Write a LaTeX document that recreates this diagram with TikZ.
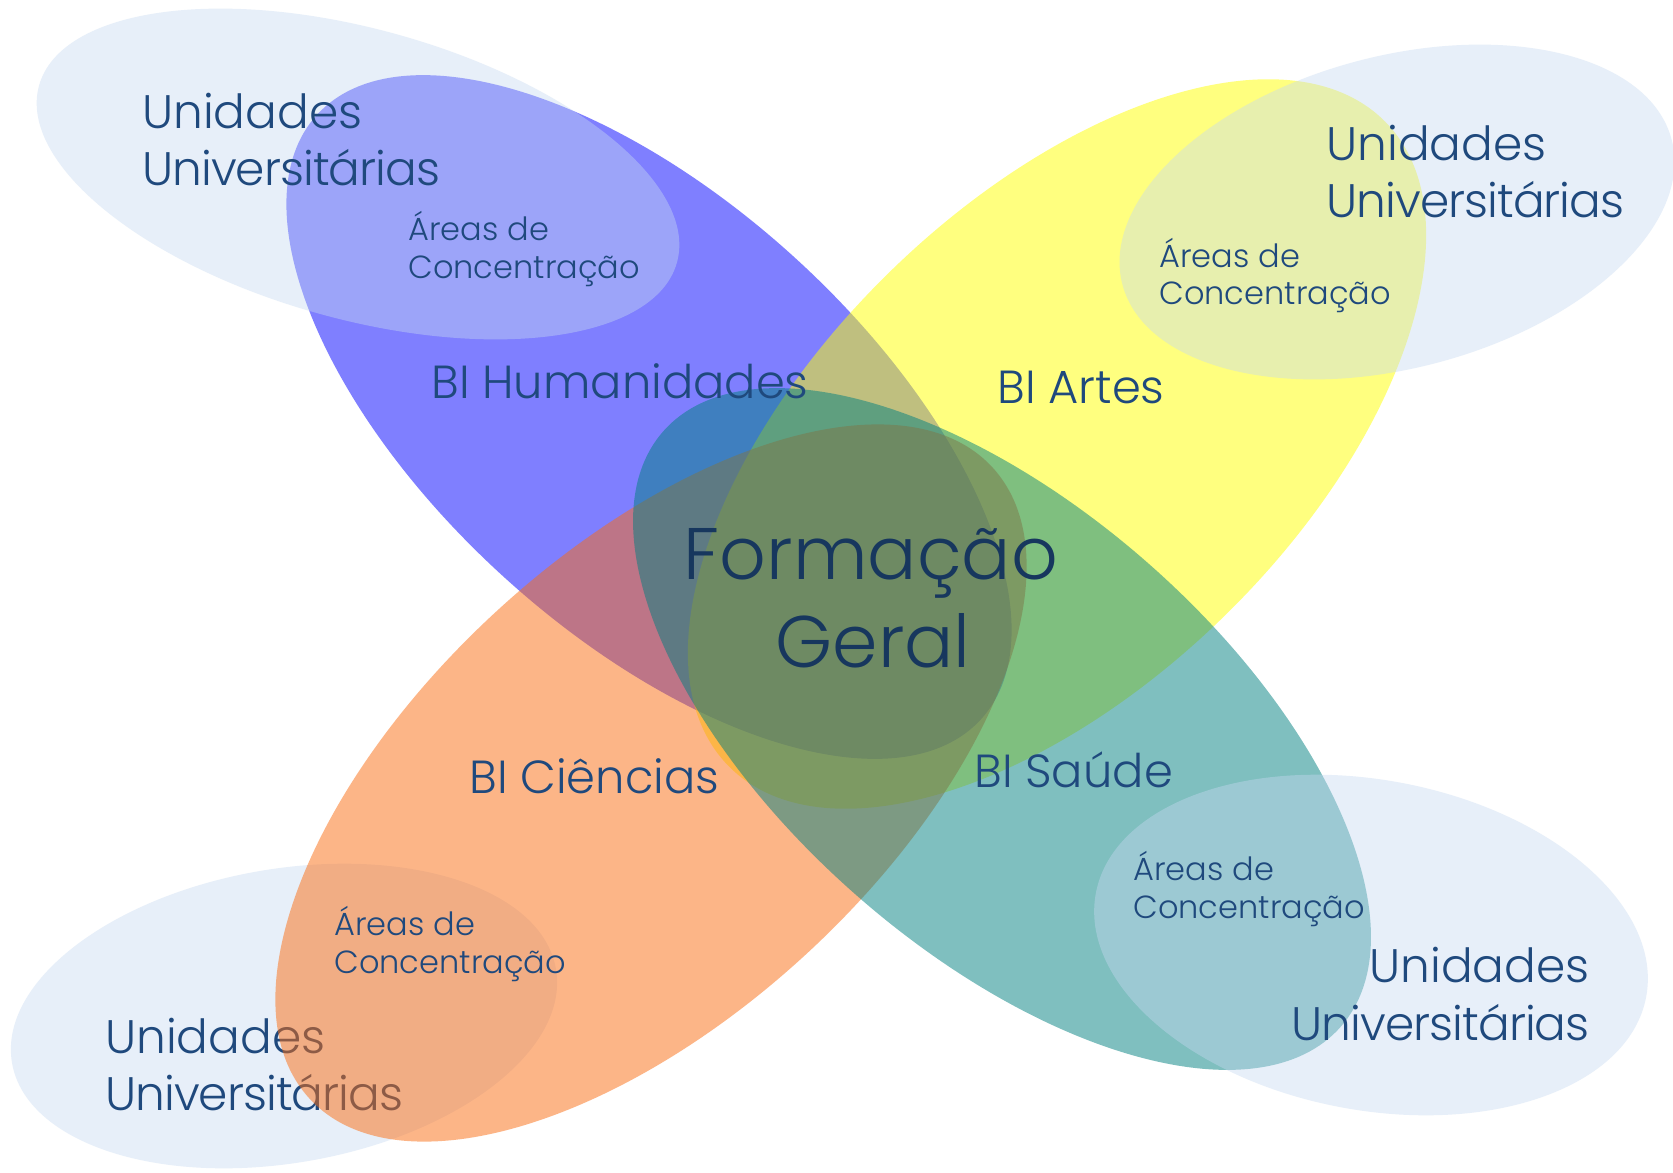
\documentclass[tikz,border=0pt]{standalone}
\usepackage{fontspec}
\setmainfont{Poppins Light}
\definecolor{cBlue}{HTML}{0000FF}
\definecolor{cYel}{HTML}{FFFF00}
\definecolor{cOra}{HTML}{FB6D11}
\definecolor{cTeal}{HTML}{008080}
\definecolor{cUni}{HTML}{C6D9F1}
\definecolor{txt}{HTML}{1F497D}
\definecolor{txtD}{HTML}{17375E}
\tikzset{
  petal/.style={fill opacity=0.5},
  unib/.style={fill=cUni, fill opacity=0.42},
  lab/.style={inner sep=0pt, text=txt},
  big/.style={lab, font=\fontsize{23.5}{28}\selectfont},
  uni/.style={lab, font=\fontsize{23.5}{28}\selectfont\addfontfeature{LetterSpace=-2}},
  bi/.style={lab, font=\fontsize{23.2}{28}\selectfont},
  small/.style={lab, font=\fontsize{16}{19}\selectfont},
  huge/.style={lab, text=txtD, font=\fontsize{36.5}{44}\selectfont},
}
\begin{document}
\begin{tikzpicture}[x=0.5pt, y=-0.5pt]
\fill[white] (0,0) rectangle (1673,1172);
\useasboundingbox (0,0) rectangle (1673,1172);
% bottom-left unit ellipse and its text (under the orange petal)
\fill[unib, shift={(284,1016)}, rotate=9.8] (0,0) ellipse [x radius=138pt, y radius=73.5pt];
\node[big, anchor=base west] (blu1) at (105,1053) {Unidades};
\node[uni, anchor=base west] (blu2) at (105,1110) {Universitárias};
% petals
\fill[petal, cBlue, shift={(649,417)}, rotate=-42.3] (0,0) ellipse [x radius=224.5pt, y radius=108pt];
\fill[petal, cYel, shift={(1057,444)}, rotate=44.4] (0,0) ellipse [x radius=230pt, y radius=120pt];
\fill[petal, cOra, shift={(651,783)}, rotate=42.8] (0,0) ellipse [x radius=232.5pt, y radius=115.5pt];
\fill[petal, cTeal, shift={(1002,729)}, rotate=-41.3] (0,0) ellipse [x radius=225.5pt, y radius=110.5pt];
% other unit ellipses
\fill[unib, shift={(358,174)}, rotate=-15.5] (0,0) ellipse [x radius=165.5pt, y radius=72.5pt];
\fill[unib, shift={(1397,212)}, rotate=14.8] (0,0) ellipse [x radius=142pt, y radius=78pt];
\fill[unib, shift={(1371,945)}, rotate=-10.7] (0,0) ellipse [x radius=140pt, y radius=82.5pt];
% texts
\node[big, anchor=base west] (tlu1) at (142,128) {Unidades};
\node[uni, anchor=base west] (tlu2) at (142,185) {Universitárias};
\node[small, anchor=base west] (tla1) at (408,240) {Áreas de};
\node[small, anchor=base west] (tla2) at (408,278) {Concentração};
\node[bi, anchor=base west] (hum) at (431,398) {BI Humanidades};
\node[bi, anchor=base west] (art) at (997,403) {BI Artes};
\node[huge, anchor=base] (fg1) at (871,579) {Formação};
\node[huge, anchor=base] (fg2) at (873,667) {Geral};
\node[bi, anchor=base west] (cie) at (469,793) {BI Ciências};
\node[bi, anchor=base west] (sau) at (974,787) {BI Saúde};
\node[small, anchor=base west] (bla1) at (334,935) {Áreas de};
\node[small, anchor=base west] (bla2) at (334,973) {Concentração};
\node[small, anchor=base west] (bra1) at (1133,880) {Áreas de};
\node[small, anchor=base west] (bra2) at (1133,918) {Concentração};
\node[big, anchor=base east] (bru1) at (1590,982) {Unidades};
\node[uni, anchor=base east] (bru2) at (1590,1040) {Universitárias};
\node[big, anchor=base west] (tru1) at (1326,160) {Unidades};
\node[uni, anchor=base west] (tru2) at (1326,217) {Universitárias};
\node[small, anchor=base west] (tra1) at (1159,267) {Áreas de};
\node[small, anchor=base west] (tra2) at (1159,304) {Concentração};
\end{tikzpicture}
\end{document}
